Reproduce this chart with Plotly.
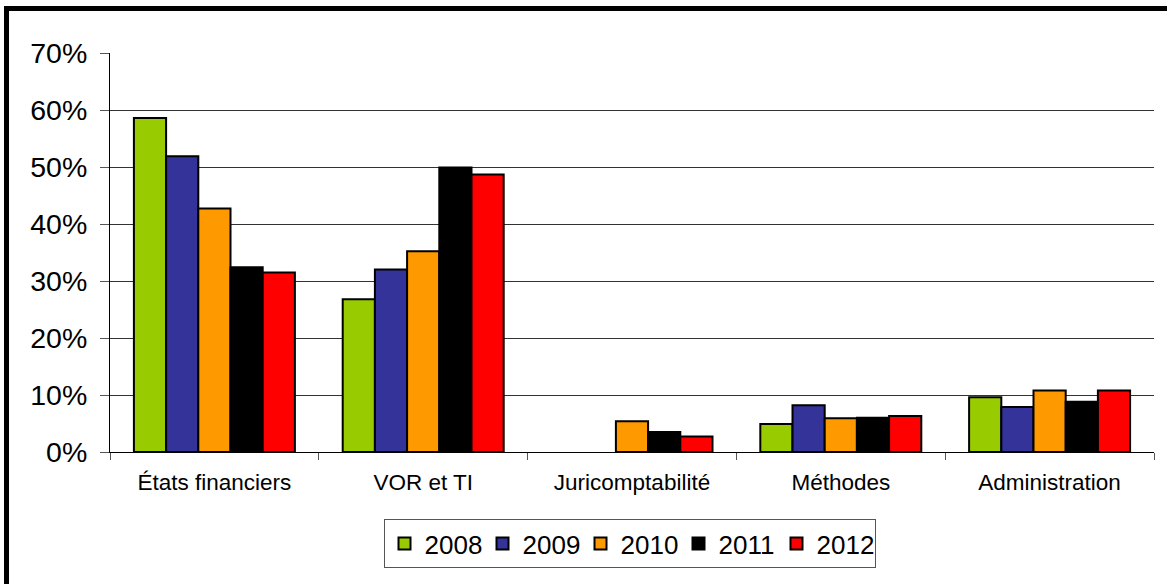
import plotly.graph_objects as go

categories = ["États financiers", "VOR et TI", "Juricomptabilité", "Méthodes", "Administration"]
years = ["2008", "2009", "2010", "2011", "2012"]
v2008 = [58.6, 26.8, None, 4.9, 9.6]
v2009 = [51.9, 32.0, None, 8.2, 7.9]
v2010 = [42.7, 35.2, 5.4, 5.9, 10.8]
v2011 = [32.4, 49.9, 3.5, 6.0, 8.8]
v2012 = [31.5, 48.7, 2.7, 6.3, 10.8]
series = [v2008, v2009, v2010, v2011, v2012]
colors = ["#99CC00", "#333399", "#FF9900", "#000000", "#FF0000"]

W, H = 1167, 584
L, R, T, B = 110, 13, 53, 132
pw, ph = W - L - R, H - T - B

fig = go.Figure()
for name, vals, col in zip(years, series, colors):
    fig.add_trace(go.Bar(
        x=categories, y=vals, name=name,
        marker=dict(color=col, line=dict(color="#000000", width=2)),
    ))

font_family = "Arial, Liberation Sans, sans-serif"

def px_x(p):
    return (p - L) / pw

def px_y(p):
    return (H - B - p) / ph

fig.update_layout(
    width=W, height=H,
    margin=dict(l=L, r=R, t=T, b=B, pad=0),
    paper_bgcolor="white", plot_bgcolor="white",
    barmode="group", bargap=0.229, bargroupgap=0,
    font=dict(family=font_family, color="#000000"),
    showlegend=True,
    legend=dict(
        orientation="h", x=px_x(629.5), xanchor="center",
        y=px_y(519), yanchor="top",
        bordercolor="#555555", borderwidth=1, bgcolor="white",
        font=dict(size=26, family=font_family, color="#000000"),
        itemsizing="constant", traceorder="normal",
        entrywidth=53, tracegroupgap=0,
    ),
    xaxis=dict(
        showline=True, linecolor="#000000", linewidth=1,
        ticks="outside", tickson="boundaries", ticklen=7, tickcolor="#555555",
        tickfont=dict(size=22.5, family=font_family, color="#000000"),
        showgrid=False, ticklabelstandoff=10,
    ),
    yaxis=dict(
        range=[0, 70], dtick=10, ticksuffix="%",
        showline=True, linecolor="#000000", linewidth=1,
        ticks="outside", ticklen=9, tickcolor="#555555",
        tickfont=dict(size=28.5, family=font_family, color="#000000"),
        showgrid=True, gridcolor="#333333", gridwidth=1,
        zeroline=False, ticklabelstandoff=7,
    ),
    shapes=[dict(
        type="rect", xref="paper", yref="paper",
        x0=px_x(6.5), x1=px_x(1190), y0=px_y(610), y1=px_y(8.5),
        line=dict(color="#000000", width=5), fillcolor="rgba(0,0,0,0)",
        layer="above",
    )],
)

fig.write_html(
    "out.html",
    config={"displayModeBar": False},
    post_script="document.body.style.margin='0px';",
)
